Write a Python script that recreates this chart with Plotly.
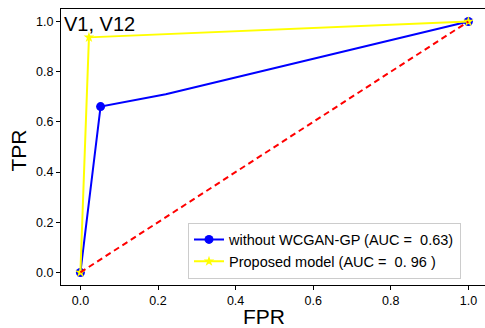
import plotly.graph_objects as go

# Data
fpr_base = [0.0, 0.052, 0.22, 1.0]
tpr_base = [0.0, 0.661, 0.71, 1.0]
base_marker_color = ["#0000ff", "#0000ff", "rgba(0,0,0,0)", "#0000ff"]

fpr_prop = [0.0, 0.022, 1.0]
tpr_prop = [0.0, 0.937, 1.0]

fpr_diag = [0.0, 1.0]
tpr_diag = [0.0, 1.0]

label_base = "without WCGAN-GP (AUC =  0.63)"
label_prop = "Proposed model (AUC =  0. 96 )"
panel_text = "V1, V12"
tick_vals = [0.0, 0.2, 0.4, 0.6, 0.8, 1.0]
tick_text = ["0.0", "0.2", "0.4", "0.6", "0.8", "1.0"]

FONT = "Liberation Sans, Arial, sans-serif"

fig = go.Figure()
fig.add_trace(go.Scatter(
    x=fpr_base, y=tpr_base, mode="lines+markers", name=label_base,
    line=dict(color="#0000ff", width=2),
    marker=dict(color=base_marker_color, size=9, symbol="circle",
                line=dict(width=0)),
))
fig.add_trace(go.Scatter(
    x=fpr_prop, y=tpr_prop, mode="lines+markers", name=label_prop,
    line=dict(color="#ffff00", width=2),
    marker=dict(color="#ffff00", size=8, symbol="star"),
))
fig.add_trace(go.Scatter(
    x=fpr_diag, y=tpr_diag, mode="lines", showlegend=False,
    line=dict(color="#ff0000", width=2, dash="6px,4px"),
))

fig.add_annotation(
    x=0, y=1, xref="paper", yref="paper", xanchor="left", yanchor="top",
    text=panel_text, showarrow=False, xshift=1, yshift=-2,
    font=dict(family=FONT, size=20, color="black"),
)
# axis titles
fig.add_annotation(
    x=(264 - 61) / 424, y=0, xref="paper", yref="paper", yanchor="middle",
    yshift=-(316 - 284.5), text="FPR", showarrow=False,
    font=dict(family=FONT, size=21, color="black"),
)
fig.add_annotation(
    x=0, y=(284.5 - 150) / 276, xref="paper", yref="paper", xanchor="center",
    xshift=-(61 - 18), text="TPR", textangle=-90, showarrow=False,
    font=dict(family=FONT, size=21, color="black"),
)

fig.update_layout(
    width=485, height=328,
    margin=dict(l=61, r=0, t=9, b=43),
    paper_bgcolor="white", plot_bgcolor="white",
    font=dict(family=FONT, size=12, color="black"),
    showlegend=True,
    legend=dict(
        x=(188 - 61) / 424, y=(284.5 - 278) / 276, xanchor="left", yanchor="bottom",
        bgcolor="rgba(255,255,255,0.85)", bordercolor="#cccccc", borderwidth=1,
        font=dict(family=FONT, size=14.5, color="black"),
        tracegroupgap=0, itemwidth=30,
    ),
    xaxis=dict(
        range=[-0.05, 1.0428], tickvals=tick_vals, ticktext=tick_text,
        showgrid=False, zeroline=False, showline=True, linecolor="black",
        linewidth=1, mirror=True, ticks="outside", ticklen=4, tickcolor="black",
        tickfont=dict(family=FONT, size=12.5),
    ),
    yaxis=dict(
        range=[-0.05, 1.05], tickvals=tick_vals, ticktext=tick_text,
        showgrid=False, zeroline=False, showline=True, linecolor="black",
        linewidth=1, mirror=False, ticks="outside", ticklen=4, tickcolor="black",
        tickfont=dict(family=FONT, size=12.5),
    ),
)

fig.write_html("out.html")
